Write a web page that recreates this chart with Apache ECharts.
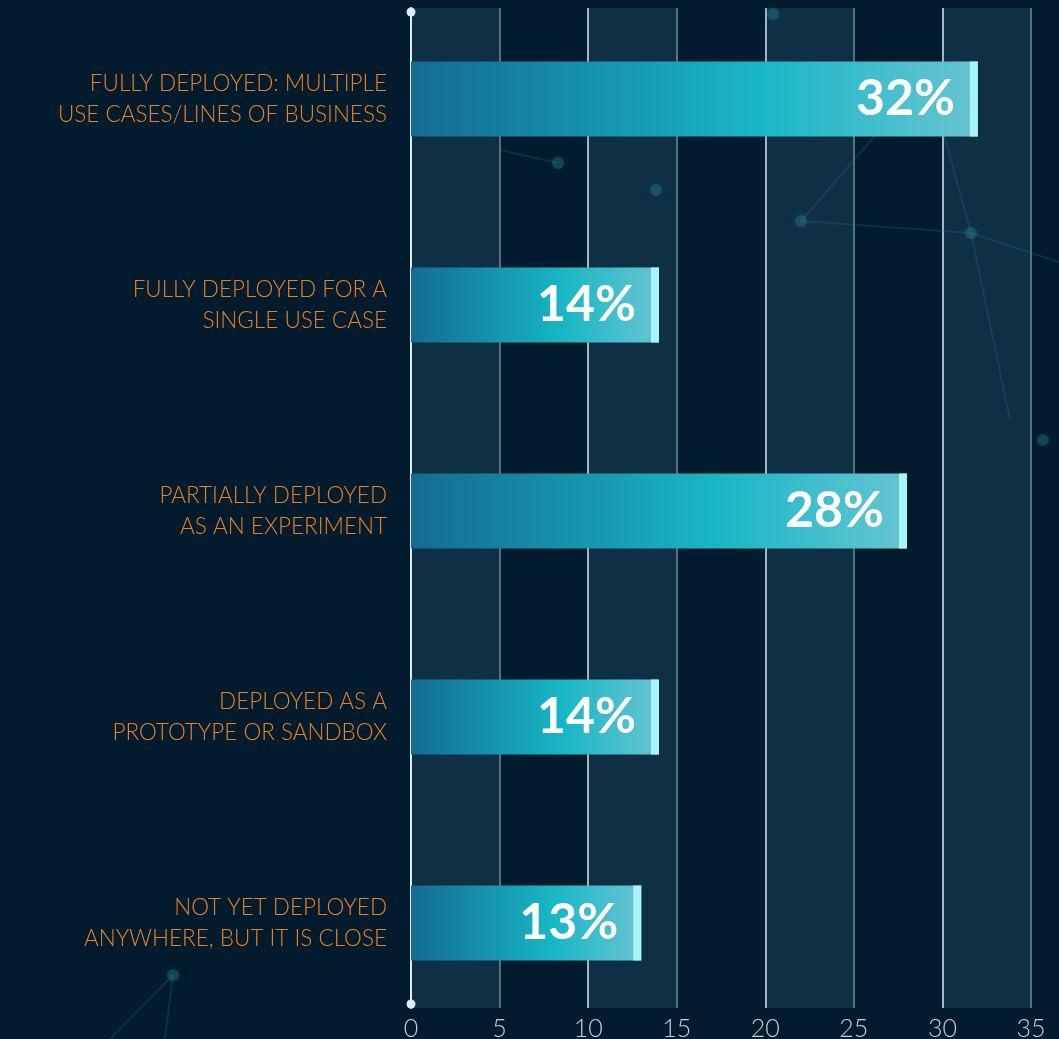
<!DOCTYPE html>
<html>
<head>
<meta charset="utf-8">
<script src="https://cdn.jsdelivr.net/npm/echarts@6/dist/echarts.min.js"></script>
<style>
html,body{margin:0;padding:0;background:#021b2d;}
#chart{width:1059px;height:1039px;}
</style>
</head>
<body>
<div id="chart"></div>
<script>
const categories = [
  'FULLY DEPLOYED: MULTIPLE\nUSE CASES/LINES OF BUSINESS',
  'FULLY DEPLOYED FOR A\nSINGLE USE CASE',
  'PARTIALLY DEPLOYED\nAS AN EXPERIMENT',
  'DEPLOYED AS A\nPROTOTYPE OR SANDBOX',
  'NOT YET DEPLOYED\nANYWHERE, BUT IT IS CLOSE'
];
const values = [32, 14, 28, 14, 13];
const axisMin = 0, axisMax = 35, axisStep = 5;

const chart = echarts.init(document.getElementById('chart'), null, {renderer: 'canvas'});

const glowDots = [[558,163],[656,190],[801,221],[971,233],[1043,440],[173,975],[773,14]];
const netLines = [[[801,221],[971,233]],[[801,221],[880,130]],[[971,233],[940,120]],[[971,233],[1059,262]],[[971,233],[1010,420]],[[173,975],[110,1039]],[[173,975],[165,1039]],[[558,163],[500,150]]];

const graphics = [];
netLines.forEach(l => graphics.push({type:'line', z:1, silent:true, shape:{x1:l[0][0],y1:l[0][1],x2:l[1][0],y2:l[1][1]}, style:{stroke:'rgba(40,120,140,0.25)', lineWidth:2}}));
glowDots.forEach(d => graphics.push({type:'circle', z:1, silent:true, shape:{cx:d[0],cy:d[1],r:6}, style:{fill:'rgba(50,130,150,0.35)', shadowBlur:10, shadowColor:'rgba(60,150,170,0.5)'}}));

chart.setOption({
  backgroundColor: '#021b2d',
  animation: false,
  graphic: graphics,
  grid: [
    {left: 411, right: 28, top: -4, height: 1030, containLabel: false, outerBoundsMode: 'none'},
    {left: 411, right: 28, top: 8, bottom: 31, containLabel: false, outerBoundsMode: 'none'}
  ],
  xAxis: [
    {gridIndex: 0, type: 'value', min: axisMin, max: axisMax, interval: axisStep, show: false},
    {gridIndex: 1, type: 'value', min: axisMin, max: axisMax, interval: axisStep,
      axisLine: {show: false}, axisTick: {show: false},
      axisLabel: {color: '#b9d4e0', fontSize: 25, fontFamily: 'Lato', fontWeight: 300, margin: 8},
      splitLine: {show: true, showMinLine: false, lineStyle: {color: ['#6f8da0', '#cfe8f2'], width: 1.5}},
      splitArea: {show: true, areaStyle: {color: ['#0f2f45', 'rgba(0,0,0,0)']}}
    }
  ],
  yAxis: [
    {gridIndex: 0, type: 'category', data: categories, inverse: true,
      axisLine: {show: false}, axisTick: {show: false},
      axisLabel: {color: '#ea8226', fontSize: 22.5, fontFamily: 'Lato', fontWeight: 300, lineHeight: 31, margin: 24, align: 'right', padding: [13, 0, 0, 0]}
    },
    {gridIndex: 1, type: 'category', data: categories, inverse: true,
      axisLabel: {show: false}, axisTick: {show: false},
      axisLine: {show: true, symbol: ['circle', 'circle'], symbolSize: [9, 9], symbolOffset: [4, -4],
        lineStyle: {color: '#d9eff4', width: 2}}
    }
  ],
  series: [
    {
      type: 'bar', xAxisIndex: 0, yAxisIndex: 0, data: values, barWidth: 75, z: 3,
      itemStyle: {
        color: new echarts.graphic.LinearGradient(0, 0, 1, 0, [
          {offset: 0, color: '#146b92'},
          {offset: 0.62, color: '#18b7c5'},
          {offset: 1, color: '#68c4d2'}
        ])
      },
      label: {show: true, position: 'insideRight', distance: 23, formatter: '{c}%',
        color: '#ffffff', fontSize: 50, fontWeight: 'bold', fontFamily: 'Lato'}
    },
    {
      type: 'scatter', xAxisIndex: 0, yAxisIndex: 0, z: 4,
      data: values.map((v, i) => [v, i]),
      symbol: 'rect', symbolSize: [8, 75], symbolOffset: [-4, 0],
      itemStyle: {color: '#a8f5f9', opacity: 1}
    }
  ]
});
</script>
</body>
</html>
